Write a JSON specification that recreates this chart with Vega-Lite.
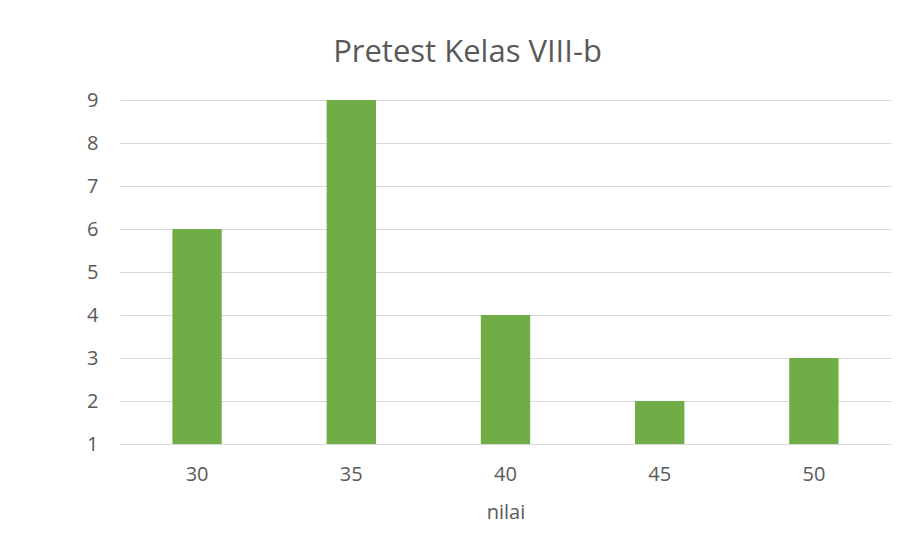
{
  "$schema": "https://vega.github.io/schema/vega-lite/v6.json",
  "autosize": "none",
  "width": 771,
  "height": 344,
  "padding": {"left": 120, "top": 100, "right": 24, "bottom": 95},
  "background": "white",
  "title": {
    "text": "Pretest Kelas VIII-b",
    "font": "Open Sans",
    "fontSize": 31,
    "fontWeight": "normal",
    "color": "#595959",
    "anchor": "middle",
    "frame": "group",
    "dx": -38,
    "offset": 21
  },
  "data": {
    "values": [
      {"nilai": "30", "jumlah": 6},
      {"nilai": "35", "jumlah": 9},
      {"nilai": "40", "jumlah": 4},
      {"nilai": "45", "jumlah": 2},
      {"nilai": "50", "jumlah": 3}
    ]
  },
  "mark": {"type": "bar", "color": "#70AD47", "width": {"band": 0.32}},
  "encoding": {
    "x": {
      "field": "nilai",
      "type": "ordinal",
      "sort": null,
      "scale": {"paddingInner": 0, "paddingOuter": 0},
      "axis": {
        "title": "nilai",
        "labelAngle": 0,
        "labelFont": "Open Sans",
        "labelFontSize": 20,
        "labelColor": "#595959",
        "labelPadding": 20,
        "ticks": false,
        "domainColor": "#D9D9D9",
        "domainWidth": 1,
        "titleFont": "Open Sans",
        "titleFontSize": 20,
        "titleFontWeight": "normal",
        "titleColor": "#595959",
        "titlePadding": 18
      }
    },
    "y": {
      "field": "jumlah",
      "type": "quantitative",
      "scale": {"domain": [1, 9], "nice": false, "zero": false},
      "axis": {
        "title": null,
        "values": [1, 2, 3, 4, 5, 6, 7, 8, 9],
        "labelFont": "Open Sans",
        "labelFontSize": 20,
        "labelColor": "#595959",
        "labelPadding": 22,
        "ticks": false,
        "domain": false,
        "grid": true,
        "gridColor": "#D9D9D9",
        "gridWidth": 1
      }
    },
    "y2": {"datum": 1}
  },
  "config": {"view": {"stroke": null}}
}
